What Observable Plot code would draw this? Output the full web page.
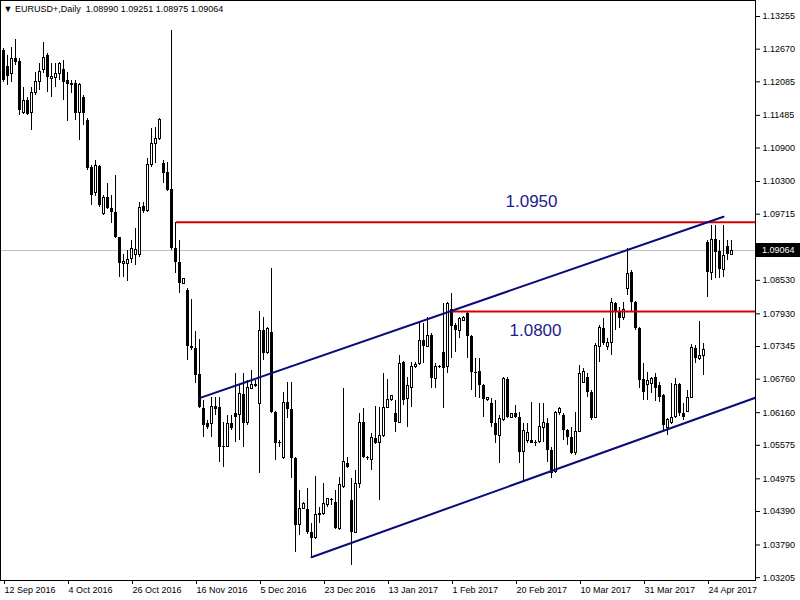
<!DOCTYPE html>
<html><head><meta charset="utf-8">
<script src="https://cdn.jsdelivr.net/npm/d3@7"></script>
<script src="https://cdn.jsdelivr.net/npm/@observablehq/plot@0.6"></script>
<style>html,body{margin:0;padding:0;background:#fff}</style>
</head><body><div id="chart"></div>
<script>
const opens = [1.1265,1.1236,1.1222,1.1250,1.1245,1.1152,1.1175,1.1152,1.1188,1.1209,
1.1229,1.1256,1.1213,1.1216,1.1223,1.1231,1.1211,1.1206,1.1206,1.1152,
1.1180,1.1139,1.1055,1.1009,1.1057,1.0971,1.1001,1.0982,1.0974,1.0930,
1.0883,1.0882,1.0891,1.0898,1.0898,1.0985,1.0978,1.1059,1.1098,1.1107,
1.1062,1.1046,1.1016,1.0910,1.0885,1.0847,1.0835,1.0735,1.0731,1.0684,
1.0623,1.0597,1.0595,1.0627,1.0625,1.0555,1.0555,1.0597,1.0614,1.0611,
1.0649,1.0597,1.0659,1.0666,1.0631,1.0763,1.0722,1.0760,1.0616,1.0563,
1.0534,1.0634,1.0622,1.0534,1.0414,1.0444,1.0443,1.0401,1.0391,1.0435,
1.0435,1.0450,1.0459,1.0455,1.0408,1.0482,1.0525,1.0459,1.0401,1.0488,
1.0598,1.0536,1.0532,1.0570,1.0561,1.0575,1.0625,1.0638,1.0614,1.0598,
1.0706,1.0640,1.0661,1.0697,1.0704,1.0745,1.0734,1.0754,1.0676,1.0697,
1.0724,1.0697,1.0801,1.0772,1.0763,1.0781,1.0794,1.0752,1.0688,1.0690,
1.0665,1.0638,1.0632,1.0597,1.0575,1.0602,1.0676,1.0607,1.0614,1.0607,
1.0545,1.0566,1.0566,1.0563,1.0563,1.0589,1.0597,1.0548,1.0509,1.0616,
1.0611,1.0584,1.0572,1.0543,1.0582,1.0670,1.0679,1.0652,1.0607,1.0733,
1.0767,1.0733,1.0740,1.0812,1.0795,1.0785,1.0838,1.0867,1.0813,1.0767,
1.0676,1.0665,1.0668,1.0679,1.0665,1.0647,1.0589,1.0597,1.0609,1.0666,
1.0614,1.0618,1.0643,1.0731,1.0713,1.0717,1.0921,1.0867,1.0926,1.0905,
1.0872,1.0914,1.08990];
const highs = [1.1268,1.1256,1.1270,1.1284,1.1250,1.1198,1.1180,1.1198,1.1225,1.1241,
1.1279,1.1259,1.1241,1.1241,1.1243,1.1247,1.1225,1.1211,1.1211,1.1206,
1.1184,1.1143,1.1059,1.1068,1.1059,1.1005,1.1026,1.1005,1.1041,1.0930,
1.0899,1.0906,1.0924,1.0946,1.0992,1.0992,1.1071,1.1125,1.1127,1.1143,
1.1068,1.1064,1.1300,1.0957,1.0924,1.0856,1.0838,1.0819,1.0761,1.0747,
1.0638,1.0602,1.0643,1.0643,1.0643,1.0598,1.0611,1.0611,1.0686,1.0666,
1.0686,1.0674,1.0692,1.0674,1.0797,1.0786,1.0769,1.0874,1.0618,1.0566,
1.0652,1.0670,1.0670,1.0536,1.0477,1.0455,1.0480,1.0417,1.0502,1.0446,
1.0489,1.0462,1.0462,1.0477,1.0500,1.0659,1.0536,1.0498,1.0512,1.0614,
1.0623,1.0537,1.0579,1.0627,1.0625,1.0686,1.0676,1.0647,1.0638,1.0718,
1.0708,1.0679,1.0706,1.0706,1.0776,1.0776,1.0786,1.0758,1.0704,1.0700,
1.0812,1.0813,1.0829,1.0776,1.0786,1.0788,1.0797,1.0754,1.0713,1.0713,
1.0666,1.0643,1.0641,1.0638,1.0611,1.0679,1.0679,1.0614,1.0629,1.0616,
1.0597,1.0597,1.0634,1.0566,1.0632,1.0632,1.0606,1.0554,1.0618,1.0625,
1.0614,1.0586,1.0589,1.0616,1.0700,1.0695,1.0686,1.0656,1.0740,1.0772,
1.0785,1.0749,1.0821,1.0813,1.0804,1.0813,1.0910,1.0871,1.0815,1.0769,
1.0704,1.0688,1.0679,1.0686,1.0670,1.0649,1.0606,1.0668,1.0677,1.0668,
1.0632,1.0656,1.0738,1.0736,1.0779,1.0740,1.0924,1.0951,1.0951,1.0924,
1.0951,1.0924,1.09251];
const lows = [1.1207,1.1202,1.1207,1.1238,1.1148,1.1150,1.1148,1.1121,1.1184,1.1193,
1.1223,1.1189,1.1180,1.1198,1.1211,1.1175,1.1137,1.1188,1.1139,1.1103,
1.1130,1.1050,1.0987,1.1003,1.0983,1.0969,1.0980,1.0955,1.0928,1.0858,
1.0858,1.0851,1.0883,1.0880,1.0894,1.0973,1.0974,1.1055,1.1062,1.1103,
1.1026,1.1012,1.0906,1.0865,1.0829,1.0846,1.0709,1.0727,1.0668,1.0623,
1.0572,1.0586,1.0572,1.0611,1.0527,1.0518,1.0554,1.0584,1.0563,1.0566,
1.0554,1.0593,1.0657,1.0661,1.0507,1.0709,1.0720,1.0614,1.0530,1.0554,
1.0532,1.0606,1.0498,1.0366,1.0396,1.0443,1.0398,1.0355,1.0389,1.0417,
1.0432,1.0446,1.0450,1.0407,1.0405,1.0480,1.0516,1.0342,1.0400,1.0480,
1.0534,1.0530,1.0512,1.0559,1.0459,1.0572,1.0623,1.0636,1.0580,1.0597,
1.0629,1.0589,1.0625,1.0695,1.0700,1.0704,1.0733,1.0659,1.0659,1.0695,
1.0623,1.0686,1.0713,1.0724,1.0749,1.0779,1.0713,1.0656,1.0643,1.0641,
1.0607,1.0636,1.0589,1.0561,1.0525,1.0600,1.0606,1.0606,1.0606,1.0525,
1.0495,1.0561,1.0561,1.0555,1.0561,1.0563,1.0527,1.0498,1.0507,1.0611,
1.0566,1.0557,1.0541,1.0539,1.0580,1.0668,1.0643,1.0602,1.0606,1.0706,
1.0736,1.0727,1.0718,1.0763,1.0767,1.0781,1.0826,1.0795,1.0763,1.0659,
1.0638,1.0638,1.0650,1.0636,1.0634,1.0584,1.0575,1.0595,1.0606,1.0609,
1.0602,1.0616,1.0641,1.0704,1.0709,1.0683,1.0822,1.0853,1.0856,1.0856,
1.0858,1.0889,1.08975];
const closes = [1.1211,1.1218,1.1250,1.1243,1.1157,1.1175,1.1150,1.1188,1.1209,1.1227,
1.1252,1.1216,1.1218,1.1223,1.1241,1.1207,1.1204,1.1202,1.1152,1.1202,
1.1152,1.1053,1.1005,1.1057,1.0987,1.1001,1.0982,1.0974,1.0930,1.0883,
1.0885,1.0889,1.0910,1.0908,1.0983,1.0976,1.1059,1.1098,1.1107,1.1141,
1.1044,1.1014,1.0910,1.0885,1.0847,1.0855,1.0735,1.0731,1.0683,1.0625,
1.0593,1.0589,1.0627,1.0622,1.0554,1.0554,1.0595,1.0588,1.0607,1.0649,
1.0597,1.0661,1.0665,1.0663,1.0763,1.0722,1.0765,1.0616,1.0561,1.0561,
1.0634,1.0622,1.0534,1.0414,1.0444,1.0453,1.0401,1.0391,1.0432,1.0432,
1.0453,1.0461,1.0460,1.0408,1.0486,1.0527,1.0518,1.0401,1.0489,1.0598,
1.0536,1.0534,1.0570,1.0561,1.0575,1.0625,1.0638,1.0645,1.0598,1.0704,
1.0638,1.0663,1.0697,1.0702,1.0745,1.0734,1.0754,1.0677,1.0697,1.0698,
1.0695,1.0810,1.0770,1.0763,1.0783,1.0785,1.0752,1.0688,1.0686,1.0665,
1.0640,1.0643,1.0597,1.0575,1.0604,1.0676,1.0607,1.0614,1.0607,1.0545,
1.0584,1.0580,1.0561,1.0561,1.0591,1.0597,1.0548,1.0507,1.0616,1.0623,
1.0584,1.0572,1.0543,1.0582,1.0686,1.0688,1.0652,1.0606,1.0736,1.0767,
1.0740,1.0740,1.0812,1.0795,1.0785,1.0799,1.0865,1.0813,1.0767,1.0674,
1.0652,1.0672,1.0676,1.0659,1.0643,1.0593,1.0602,1.0606,1.0666,1.0614,
1.0607,1.0643,1.0731,1.0713,1.0718,1.0729,1.0867,1.0926,1.0903,1.0872,
1.0896,1.0899,1.09064];

const dateTickIndex = [0,16,32,48,64,80,96,112,128,144,160,176];
const dateTickLabels = ["12 Sep 2016","4 Oct 2016","26 Oct 2016","16 Nov 2016","5 Dec 2016","23 Dec 2016","13 Jan 2017","1 Feb 2017","20 Feb 2017","10 Mar 2017","31 Mar 2017","24 Apr 2017"];
const priceTicks = [1.13255,1.12670,1.12085,1.11485,1.10900,1.10300,1.09715,1.08530,1.07930,1.07345,1.06760,1.06160,1.05575,1.04975,1.04390,1.03790,1.03205];

const upperChannel = [{i:49, p:1.0642},{i:180, p:1.0967}];
const lowerChannel = [{i:77, p:1.0357},{i:188.5, p:1.0644}];
const levels = [{start:43.25, price:1.0957},{start:112, price:1.0797}];
const levelLabels = [{i:132, p:1.0995, text:"1.0950"},{i:133, p:1.0763, text:"1.0800"}];
const title = "\u25BC EURUSD+,Daily  1.08990 1.09251 1.08975 1.09064";

const data = opens.map((o, i) => ({i, open:o, high:highs[i], low:lows[i], close:closes[i]}));
const bulls = data.filter(d => d.close >= d.open);
const bears = data.filter(d => d.close < d.open);
const last = data[data.length - 1].close;
const labelOf = new Map(dateTickIndex.map((d, k) => [d, dateTickLabels[k]]));
const FONT = "'Liberation Sans', Arial, sans-serif";

const plot = Plot.plot({
  width: 800, height: 600,
  marginTop: 0, marginBottom: 20, marginLeft: 0, marginRight: 45,
  style: {fontFamily: FONT, fontSize: "9px", background: "white", color: "black"},
  x: {type: "linear", domain: [-0.75, 188]},
  y: {type: "linear", domain: [1.03154, 1.13542]},
  marks: [
    Plot.ruleY([last], {stroke: "#c0c0c0", strokeWidth: 1, shapeRendering: "crispEdges"}),
    Plot.ruleX(data, {x: "i", y1: "low", y2: "high", stroke: "black", strokeWidth: 1, shapeRendering: "crispEdges"}),
    Plot.rect(bears, {x1: d => d.i - 0.375, x2: d => d.i + 0.375, y1: "open", y2: "close",
      fill: "black", shapeRendering: "crispEdges", dx: 0.5}),
    Plot.rect(bulls, {x1: d => d.i - 0.25, x2: d => d.i + 0.25, y1: "open", y2: "close",
      fill: "white", stroke: "black", strokeWidth: 1, shapeRendering: "crispEdges", dx: 0.5}),
    Plot.ruleY(levels, {y: "price", x1: "start", x2: 188, stroke: "#d40000", strokeWidth: 2}),
    Plot.line(upperChannel, {x: "i", y: "p", stroke: "#0a0a78", strokeWidth: 2}),
    Plot.line(lowerChannel, {x: "i", y: "p", stroke: "#0a0a78", strokeWidth: 2, clip: true}),
    Plot.text(levelLabels, {x: "i", y: "p", text: "text", fontSize: 17, fill: "#1c1c8c", fontFamily: FONT}),
    Plot.axisY(priceTicks, {anchor: "right", tickSize: 4, tickPadding: 3, tickFormat: d => d.toFixed(5), fontSize: 9, label: null}),
    Plot.axisX(dateTickIndex, {anchor: "bottom", tickSize: 4, tickPadding: 2, tickFormat: d => labelOf.get(d),
      textAnchor: "start", dx: 1, fontSize: 9, label: null}),
    Plot.frame({stroke: "black", shapeRendering: "crispEdges"}),
    Plot.text([title], {frameAnchor: "top-left", dx: 3, dy: 5, textAnchor: "start", lineAnchor: "top", fontSize: 9, fill: "black"})
  ]
});

document.getElementById("chart").appendChild(plot);

// current price marker on the right axis, positioned with the plot's own y scale
const yy = plot.scale("y").apply(last);
const svg = d3.select(plot);
svg.append("rect").attr("x", 756).attr("y", Math.round(yy) - 7).attr("width", 44).attr("height", 14).attr("fill", "black");
svg.append("text").attr("x", 762).attr("y", yy).attr("dy", "0.32em").attr("text-anchor", "start")
  .attr("fill", "white").attr("font-size", 9).attr("font-family", FONT)
  .text(last.toFixed(5));
</script>
</body></html>
